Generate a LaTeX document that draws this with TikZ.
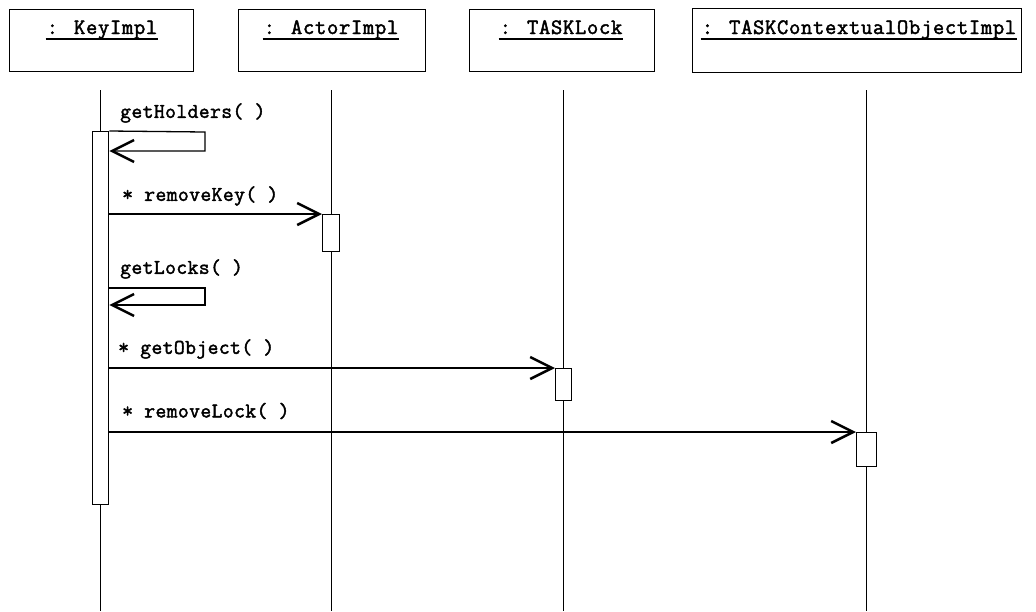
\documentclass[tikz,border=0pt]{standalone}
\usepackage{fontspec}
\newfontfamily\titlefont[FakeBold=2, LetterSpace=3]{Latin Modern Mono}
\newfontfamily\lblfont[FakeBold=2, LetterSpace=2]{Latin Modern Mono}
\usetikzlibrary{arrows.meta}
\tikzset{
  objbox/.style={draw, line width=1.3pt, anchor=north west, inner sep=0pt},
  title/.style={font=\titlefont\bfseries\fontsize{22}{25}\selectfont, anchor=base, inner sep=1pt},
  uline/.style={line width=1.3pt},
  lifeline/.style={line width=1pt},
  actbar/.style={draw, fill=white, line width=1.3pt, anchor=north west, inner sep=0pt},
  msg/.style={line width=1.3pt, -{Straight Barb[length=22pt,width=22pt,line width=2.5pt]}},
  lbl/.style={font=\lblfont\bfseries\fontsize{21}{24}\selectfont, anchor=west, inner sep=0pt}
}
\begin{document}
\begin{tikzpicture}[x=1pt,y=-1pt]
\useasboundingbox (0,0) rectangle (1036,611);
% object boxes
\node[objbox, minimum width=184pt, minimum height=62pt] (k) at (9,9) {};
\node[objbox, minimum width=187pt, minimum height=62pt] (a) at (238,9) {};
\node[objbox, minimum width=185pt, minimum height=62pt] (t) at (469,9) {};
\node[objbox, minimum width=329pt, minimum height=64pt] (c) at (692,8) {};
% titles
\node[title] (kt) at (102,34) {: KeyImpl};
\node[title] (at) at (331,34) {: ActorImpl};
\node[title] (tt) at (561,34) {: TASKLock};
\node[title] (ct) at (859,34) {: TASKContextualObjectImpl};
\foreach \n in {kt,at,tt,ct} {
  \draw[uline] ([yshift=-5pt]\n.base west) -- ([yshift=-5pt]\n.base east);
}
% lifelines
\coordinate (k1) at (100,90); \coordinate (k2) at (100,611);
\coordinate (a1) at (331,90); \coordinate (a2) at (331,611);
\coordinate (t1) at (563,90); \coordinate (t2) at (563,611);
\coordinate (c1) at (866,90); \coordinate (c2) at (866,611);
\draw[lifeline] (k1) -- (k2);
\draw[lifeline] (a1) -- (a2);
\draw[lifeline] (t1) -- (t2);
\draw[lifeline] (c1) -- (c2);
% activation bars
\node[actbar, minimum width=16pt, minimum height=373pt] (kb) at (92,131) {};
\node[actbar, minimum width=17pt, minimum height=37pt] (ab) at (322,214) {};
\node[actbar, minimum width=16pt, minimum height=32pt] (tb) at (555,368) {};
\node[actbar, minimum width=20pt, minimum height=34pt] (cb) at (856,432) {};
% self calls
\coordinate (h1) at (205,132); \coordinate (h2) at (205,151);
\draw[msg] (kb.north east) -- (h1) -- (h2) -- (kb.east |- h2);
\coordinate (l0) at (108,288); \coordinate (l1) at (205,288); \coordinate (l2) at (205,305);
\draw[msg] (l0) -- (l1) -- (l2) -- (kb.east |- l2);
% messages
\draw[msg] (kb.east |- ab.north) -- (ab.north west);
\draw[msg] (kb.east |- tb.north) -- (tb.north west);
\draw[msg] (kb.east |- cb.north) -- (cb.north west);
% labels
\node[lbl] (m1) at (120,113) {getHolders( )};
\node[lbl] (m2) at (122,196) {* removeKey( )};
\node[lbl] (m3) at (120,269) {getLocks( )};
\node[lbl] (m4) at (118,349) {* getObject( )};
\node[lbl] (m5) at (122,411) {* removeLock( )};
\end{tikzpicture}
\end{document}
